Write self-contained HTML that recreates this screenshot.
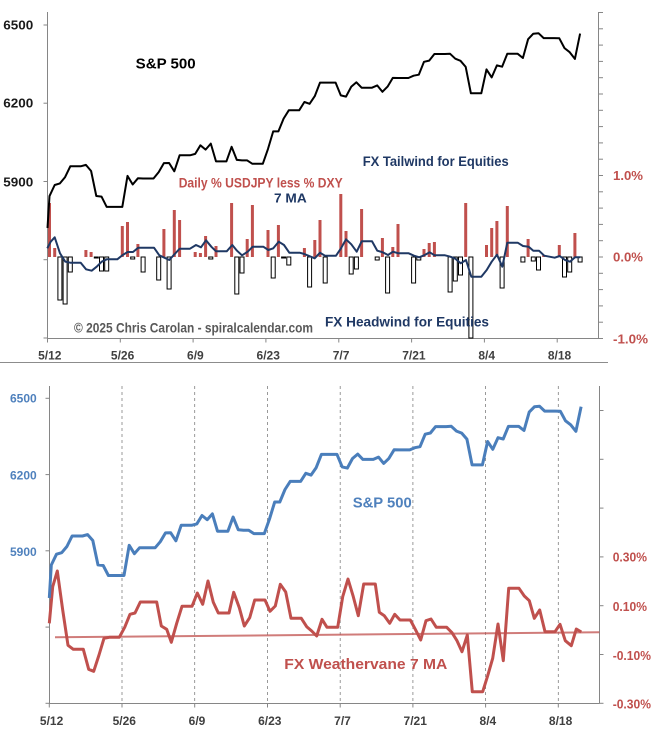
<!DOCTYPE html>
<html><head><meta charset="utf-8"><style>
html,body{margin:0;padding:0;background:#fff;}
svg{display:block;}
text{font-family:"Liberation Sans",Arial,sans-serif;font-weight:bold;}
</style></head><body>
<svg width="656" height="733" viewBox="0 0 656 733" xmlns="http://www.w3.org/2000/svg">
<rect width="656" height="733" fill="#fff"/>

<!-- ============ TOP CHART ============ -->
<g stroke="#868686" stroke-width="1" fill="none">
  <line x1="47.5" y1="12" x2="47.5" y2="338.5"/>
  <line x1="598.5" y1="12" x2="598.5" y2="338.5"/>
  <line x1="47.5" y1="338.5" x2="598.5" y2="338.5"/>
  <!-- left ticks -->
  <line x1="43.5" y1="25" x2="47.5" y2="25"/>
  <line x1="43.5" y1="103.2" x2="47.5" y2="103.2"/>
  <line x1="43.5" y1="181.5" x2="47.5" y2="181.5"/>
  <line x1="43.5" y1="259.7" x2="47.5" y2="259.7"/>
  <line x1="43.5" y1="338" x2="47.5" y2="338"/>
  <!-- right ticks -->
  <line x1="598.5" y1="12.5" x2="603" y2="12.5"/>
  <line x1="598.5" y1="28.8" x2="603" y2="28.8"/>
  <line x1="598.5" y1="45.1" x2="603" y2="45.1"/>
  <line x1="598.5" y1="61.4" x2="603" y2="61.4"/>
  <line x1="598.5" y1="77.7" x2="603" y2="77.7"/>
  <line x1="598.5" y1="94" x2="603" y2="94"/>
  <line x1="598.5" y1="110.3" x2="603" y2="110.3"/>
  <line x1="598.5" y1="126.6" x2="603" y2="126.6"/>
  <line x1="598.5" y1="142.9" x2="603" y2="142.9"/>
  <line x1="598.5" y1="159.2" x2="603" y2="159.2"/>
  <line x1="598.5" y1="175.5" x2="603" y2="175.5"/>
  <line x1="598.5" y1="191.8" x2="603" y2="191.8"/>
  <line x1="598.5" y1="208.1" x2="603" y2="208.1"/>
  <line x1="598.5" y1="224.4" x2="603" y2="224.4"/>
  <line x1="598.5" y1="240.7" x2="603" y2="240.7"/>
  <line x1="598.5" y1="257" x2="603" y2="257"/>
  <line x1="598.5" y1="273.3" x2="603" y2="273.3"/>
  <line x1="598.5" y1="289.6" x2="603" y2="289.6"/>
  <line x1="598.5" y1="305.9" x2="603" y2="305.9"/>
  <line x1="598.5" y1="322.2" x2="603" y2="322.2"/>
  <line x1="598.5" y1="338.5" x2="603" y2="338.5"/>
  <!-- x ticks -->
  <line x1="47.5" y1="338.5" x2="47.5" y2="342.5"/>
  <line x1="120.3" y1="338.5" x2="120.3" y2="342.5"/>
  <line x1="193.1" y1="338.5" x2="193.1" y2="342.5"/>
  <line x1="265.9" y1="338.5" x2="265.9" y2="342.5"/>
  <line x1="338.8" y1="338.5" x2="338.8" y2="342.5"/>
  <line x1="411.6" y1="338.5" x2="411.6" y2="342.5"/>
  <line x1="484.4" y1="338.5" x2="484.4" y2="342.5"/>
  <line x1="557.2" y1="338.5" x2="557.2" y2="342.5"/>
</g>

<!-- positive bars -->
<g fill="#c0504d">
<rect x="48" y="203" width="3" height="54"/>
<rect x="53.2" y="248" width="3" height="9"/>
<rect x="84.4" y="250" width="3" height="7"/>
<rect x="89.6" y="252" width="3" height="5"/>
<rect x="120.8" y="226" width="3" height="31"/>
<rect x="126" y="222" width="3" height="35"/>
<rect x="136.4" y="244" width="3" height="13"/>
<rect x="162.4" y="229" width="3" height="28"/>
<rect x="172.8" y="210" width="3" height="47"/>
<rect x="178.1" y="220" width="3" height="37"/>
<rect x="193.7" y="252" width="3" height="5"/>
<rect x="198.9" y="253" width="3" height="4"/>
<rect x="204.1" y="236" width="3" height="21"/>
<rect x="214.5" y="246" width="3" height="11"/>
<rect x="230.1" y="203" width="3" height="54"/>
<rect x="245.7" y="239" width="3" height="18"/>
<rect x="250.9" y="205" width="3" height="52"/>
<rect x="266.5" y="230" width="3" height="27"/>
<rect x="276.9" y="225" width="3" height="32"/>
<rect x="302.9" y="248" width="3" height="9"/>
<rect x="313.3" y="240" width="3" height="17"/>
<rect x="318.5" y="220" width="3" height="37"/>
<rect x="339.3" y="194" width="3" height="63"/>
<rect x="344.5" y="231" width="3" height="26"/>
<rect x="360.1" y="209" width="3" height="48"/>
<rect x="380.9" y="238" width="3" height="19"/>
<rect x="391.3" y="247" width="3" height="10"/>
<rect x="396.5" y="224" width="3" height="33"/>
<rect x="422.5" y="249" width="3" height="8"/>
<rect x="427.7" y="243" width="3" height="14"/>
<rect x="432.9" y="242" width="3" height="15"/>
<rect x="464.2" y="203" width="3" height="54"/>
<rect x="485" y="245" width="3" height="12"/>
<rect x="490.2" y="228" width="3" height="29"/>
<rect x="495.4" y="221" width="3" height="36"/>
<rect x="505.8" y="206" width="3" height="51"/>
<rect x="526.6" y="239" width="3" height="18"/>
<rect x="542.2" y="255" width="3" height="2"/>
<rect x="557.8" y="245" width="3" height="12"/>
<rect x="573.4" y="233" width="3" height="24"/>
</g>
<!-- negative bars -->
<g fill="#fff" stroke="#000" stroke-width="1">
<rect x="57.9" y="257" width="4" height="43"/>
<rect x="63.1" y="257" width="4" height="47"/>
<rect x="68.3" y="257" width="4" height="15"/>
<rect x="94.3" y="257" width="4" height="1"/>
<rect x="99.5" y="257" width="4" height="14"/>
<rect x="104.7" y="257" width="4" height="14"/>
<rect x="130.7" y="257" width="4" height="2"/>
<rect x="141.1" y="257" width="4" height="15"/>
<rect x="156.7" y="257" width="4" height="23"/>
<rect x="167.1" y="257" width="4" height="32"/>
<rect x="208.8" y="257" width="4" height="2"/>
<rect x="234.8" y="257" width="4" height="37"/>
<rect x="240" y="257" width="4" height="16"/>
<rect x="271.2" y="257" width="4" height="21"/>
<rect x="281.6" y="257" width="4" height="1"/>
<rect x="286.8" y="257" width="4" height="8"/>
<rect x="307.6" y="257" width="4" height="30"/>
<rect x="323.2" y="257" width="4" height="26"/>
<rect x="349.2" y="257" width="4" height="17"/>
<rect x="354.4" y="257" width="4" height="12"/>
<rect x="375.2" y="257" width="4" height="3"/>
<rect x="385.6" y="257" width="4" height="36"/>
<rect x="411.6" y="257" width="4" height="26"/>
<rect x="416.8" y="257" width="4" height="3"/>
<rect x="448.1" y="257" width="4" height="35"/>
<rect x="453.3" y="257" width="4" height="24"/>
<rect x="458.5" y="257" width="4" height="18"/>
<rect x="468.9" y="257" width="4" height="81"/>
<rect x="500.1" y="257" width="4" height="31"/>
<rect x="520.9" y="257" width="4" height="5"/>
<rect x="531.3" y="257" width="4" height="4"/>
<rect x="536.5" y="257" width="4" height="13"/>
<rect x="562.5" y="257" width="4" height="20"/>
<rect x="567.7" y="257" width="4" height="15"/>
<rect x="578.1" y="257" width="4" height="5"/>
</g>

<!-- 7 MA navy -->
<polyline fill="none" stroke="#1f3864" stroke-width="2" stroke-linejoin="round" points="47.3,248.3 50.7,241.7 54.7,237.3 60,253.3 65.3,261.7 70.3,262.7 80.7,262.7 86,269.3 91.7,270.7 96.7,266.7 101.7,261.7 106.7,259.3 117.3,259.3 122.7,255 127.7,252 133,252 138.3,247.7 154,247.7 159.3,255.3 169.3,260 174.7,254 179.7,248.7 190,248.7 196,245 201,247.3 206,240.3 211.3,246.7 216,251.3 226.7,251.3 232.3,245 237,250.7 242,255.3 247.7,251.7 252.7,246.7 263.3,246.7 268.3,250 273.3,248.3 278.7,241.7 284,245 289.3,252.7 299.7,252.7 304.3,254 314.7,258.3 320,252.7 325,255.7 336,255.7 341,248.3 346,239.3 351.3,244.3 356.7,251.7 361.7,241.3 372,241.3 377.3,250.7 382.7,252.3 388,255 393,251.7 398.3,253.3 408.7,253.3 414,255.7 419.3,257.3 424.7,255 429.7,252.3 434.7,255.3 445,255.3 450.3,256.7 455.3,258.7 460.7,263.3 466,260 471.3,276.7 481.3,276.7 486.7,270 491.7,261.7 497,254.7 502.3,266.7 507.3,242.7 517.7,242.7 523,246 528.7,246.7 533.3,250.7 539,250.7 544.3,255.7 554.7,257.7 559.7,256 565,260 570,261.7 575,257.3 580.3,257.3"/>

<!-- S&P top black -->
<polyline fill="none" stroke="#000" stroke-width="2" stroke-linejoin="round" points="47.5,228 49.5,196.1 54.7,185 59.9,183.4 65.1,177.1 70.3,166.3 80.7,166.3 85.9,164.9 91.1,171 96.3,196 101.5,196.6 106.7,206.9 122.3,206.9 127.5,175.9 132.7,184.5 137.9,178.3 143.1,178.5 153.5,178.5 158.7,172.1 163.9,163.1 169.1,163 174.3,171.3 179.6,155.3 190,155.3 195.2,153.9 200.4,145.3 205.6,149.6 210.8,143.6 216,161.4 226.4,161.4 231.6,146.8 236.8,159.9 242,160.4 247.2,160.4 252.4,163.8 262.8,163.8 268,148.9 273.2,131.4 278.4,131.4 283.6,118.6 288.8,110.3 299.2,110.3 304.4,102 309.6,103.8 314.8,96.1 320,82.6 335.6,82.6 340.8,95.4 346,96.6 351.2,86.8 356.4,82.3 361.6,87.7 372,87.7 377.2,85.4 382.4,91.8 387.6,86.6 392.8,77.9 398,78 408.4,78 413.6,75.7 418.8,74.7 424,61.8 429.2,60.6 434.4,54 444.9,54 450.1,53.8 455.3,58.7 460.5,60.8 465.7,66.9 470.9,93.3 481.3,93.3 486.5,69.4 491.7,77.4 496.9,65.4 502.1,66.7 507.3,53.8 517.7,53.8 522.9,58 528.1,39.2 533.3,33.7 538.5,33.2 543.7,38.1 554.1,38.1 559.3,38.3 564.5,48.1 569.7,52.2 574.9,58.9 580.1,33.6"/>

<!-- top texts -->
<g fill="#1a1a1a" font-size="12.5">
<text x="3.3" y="29.3" textLength="30" lengthAdjust="spacingAndGlyphs">6500</text>
<text x="3.3" y="107.3" textLength="30" lengthAdjust="spacingAndGlyphs">6200</text>
<text x="3.3" y="186.7" textLength="30" lengthAdjust="spacingAndGlyphs">5900</text>
</g>
<text x="135.7" y="68.3" font-size="15" fill="#000" textLength="60" lengthAdjust="spacingAndGlyphs">S&amp;P 500</text>
<text x="178.7" y="187.7" font-size="13.5" fill="#c0504d" textLength="164" lengthAdjust="spacingAndGlyphs">Daily % USDJPY less % DXY</text>
<text x="274" y="202.7" font-size="13" fill="#1f3864" textLength="32.7" lengthAdjust="spacingAndGlyphs">7 MA</text>
<text x="362.7" y="166" font-size="13.5" fill="#1f3864" textLength="146" lengthAdjust="spacingAndGlyphs">FX Tailwind for Equities</text>
<text x="325" y="326.7" font-size="14" fill="#1f3864" textLength="164" lengthAdjust="spacingAndGlyphs">FX Headwind for Equities</text>
<text x="74" y="332.7" font-size="13.5" fill="#595959" textLength="239" lengthAdjust="spacingAndGlyphs">© 2025 Chris Carolan - spiralcalendar.com</text>
<g fill="#c0504d" font-size="13">
<text x="613" y="180" textLength="30" lengthAdjust="spacingAndGlyphs">1.0%</text>
<text x="613" y="261.7" textLength="30" lengthAdjust="spacingAndGlyphs">0.0%</text>
<text x="613" y="343.3" textLength="35" lengthAdjust="spacingAndGlyphs">-1.0%</text>
</g>
<g fill="#404040" font-size="12" text-anchor="middle">
<text x="49.8" y="359.3">5/12</text>
<text x="122.6" y="359.3">5/26</text>
<text x="195.4" y="359.3">6/9</text>
<text x="268.2" y="359.3">6/23</text>
<text x="341.1" y="359.3">7/7</text>
<text x="413.9" y="359.3">7/21</text>
<text x="486.7" y="359.3">8/4</text>
<text x="559.5" y="359.3">8/18</text>
</g>

<!-- separator -->
<line x1="0" y1="362.5" x2="608" y2="362.5" stroke="#8c8c8c" stroke-width="1"/>

<!-- ============ BOTTOM CHART ============ -->
<g stroke="#808080" stroke-width="0.8" stroke-dasharray="3,3" fill="none">
<line x1="122" y1="386" x2="122" y2="703"/>
<line x1="194.7" y1="386" x2="194.7" y2="703"/>
<line x1="267.5" y1="386" x2="267.5" y2="703"/>
<line x1="340.2" y1="386" x2="340.2" y2="703"/>
<line x1="412.9" y1="386" x2="412.9" y2="703"/>
<line x1="485.6" y1="386" x2="485.6" y2="703"/>
<line x1="558.3" y1="386" x2="558.3" y2="703"/>
</g>
<g stroke="#868686" stroke-width="1" fill="none">
  <line x1="49.5" y1="386" x2="49.5" y2="703.5"/>
  <line x1="599.5" y1="386" x2="599.5" y2="703.5"/>
  <line x1="49.5" y1="703.5" x2="599.5" y2="703.5"/>
  <line x1="45.5" y1="398.3" x2="49.5" y2="398.3"/>
  <line x1="45.5" y1="474.6" x2="49.5" y2="474.6"/>
  <line x1="45.5" y1="550.8" x2="49.5" y2="550.8"/>
  <line x1="45.5" y1="627.1" x2="49.5" y2="627.1"/>
  <line x1="45.5" y1="703.3" x2="49.5" y2="703.3"/>
  <line x1="599.5" y1="410.5" x2="603.5" y2="410.5"/>
  <line x1="599.5" y1="459.3" x2="603.5" y2="459.3"/>
  <line x1="599.5" y1="508.1" x2="603.5" y2="508.1"/>
  <line x1="599.5" y1="556.9" x2="603.5" y2="556.9"/>
  <line x1="599.5" y1="605.7" x2="603.5" y2="605.7"/>
  <line x1="599.5" y1="654.5" x2="603.5" y2="654.5"/>
  <line x1="599.5" y1="703.3" x2="603.5" y2="703.3"/>
  <line x1="49.3" y1="703.5" x2="49.3" y2="707.5"/>
  <line x1="122" y1="703.5" x2="122" y2="707.5"/>
  <line x1="194.7" y1="703.5" x2="194.7" y2="707.5"/>
  <line x1="267.5" y1="703.5" x2="267.5" y2="707.5"/>
  <line x1="340.2" y1="703.5" x2="340.2" y2="707.5"/>
  <line x1="412.9" y1="703.5" x2="412.9" y2="707.5"/>
  <line x1="485.6" y1="703.5" x2="485.6" y2="707.5"/>
  <line x1="558.3" y1="703.5" x2="558.3" y2="707.5"/>
</g>

<!-- trend line -->
<line x1="55" y1="637.3" x2="599.3" y2="632.3" stroke="#c0504d" stroke-opacity="0.75" stroke-width="2"/>

<!-- FX weathervane red -->
<polyline fill="none" stroke="#c0504d" stroke-width="3" stroke-linejoin="round" points="49.3,623.3 52.7,586.7 57.3,571 62.7,610 68,645.3 73.3,649.3 83.3,649.3 88.7,669.3 93.7,671.3 99,655 104,638.3 109.3,637.3 119.3,637.3 124.7,627.3 130,614.3 135,613 140.3,602 156.7,602 161.3,626 166.7,629.3 171.3,642.3 176.7,623.3 182,606.3 192,606.3 197.3,593 202.7,604.3 208,581 213.3,602.3 218.3,613 229,613 233.7,592.3 239.3,607.7 244.3,626 249.7,617.7 254.7,600 265,600 270,611.3 275.3,606 280.3,584.3 285.7,592 291,618.3 301.3,618.3 306.7,626.7 311.7,631 316.7,636 322,619.3 327,627.3 337.7,627.3 342.7,596.7 348,579 353.3,596.7 358.3,615.7 363.7,584 375.3,584 379.3,612.3 384.3,615.7 389.7,623.3 394.7,614.3 400,620 410.3,620 415.3,629.3 420.7,640 426,620.7 431,619 436.3,627.3 446.7,627.3 452,632.7 457,640.7 462,651.7 467.3,635 472.3,691.7 482.7,691.7 487.7,675.7 492.7,658.3 498,624 503.3,660.7 508.7,588.3 519,588.3 524.3,596 529.3,600.7 534.3,618.3 539.7,610 545,631.7 555,631.7 560,624.3 565.3,640.7 571.3,645.7 576.3,629 581.3,632"/>

<!-- S&P bottom blue -->
<polyline fill="none" stroke="#4a7ebb" stroke-width="3" stroke-linejoin="round" points="49.3,598 51.3,565 56.5,554.2 61.7,552.7 66.9,546.5 72.1,536 82.5,536 87.6,534.6 92.8,540.5 98,564.9 103.2,565.5 108.4,575.5 124,575.5 129.2,545.3 134.4,553.7 139.6,547.7 144.8,547.8 155.1,547.8 160.3,541.7 165.5,532.9 170.7,532.8 175.9,540.8 181.2,525.3 191.6,525.3 196.8,523.9 202,515.5 207.2,519.7 212.4,513.9 217.5,531.2 227.9,531.2 233.1,517 238.3,529.8 243.5,530.2 248.7,530.2 253.9,533.6 264.3,533.6 269.5,519 274.7,502 279.8,502 285,489.5 290.2,481.4 300.6,481.4 305.8,473.3 311,475.1 316.2,467.6 321.4,454.4 337,454.4 342.2,466.9 347.3,468.1 352.5,458.5 357.7,454.1 362.9,459.4 373.3,459.4 378.5,457.1 383.7,463.4 388.9,458.4 394.1,449.8 399.3,449.9 409.7,449.9 414.8,447.7 420,446.7 425.2,434.2 430.4,433 435.6,426.6 446.1,426.6 451.3,426.3 456.5,431.1 461.7,433.1 466.9,439.1 472.1,464.9 482.4,464.9 487.6,441.5 492.8,449.3 498,437.7 503.2,439 508.4,426.4 518.8,426.4 524,430.5 529.2,412.1 534.4,406.8 539.6,406.3 544.7,411.1 555.1,411.1 560.3,411.2 565.5,420.8 570.7,424.8 575.9,431.3 581.1,406.7"/>

<!-- bottom texts -->
<g fill="#4f81bd" font-size="12">
<text x="10" y="402.3" textLength="26.7" lengthAdjust="spacingAndGlyphs">6500</text>
<text x="10" y="479.3" textLength="26.7" lengthAdjust="spacingAndGlyphs">6200</text>
<text x="10" y="556" textLength="26.7" lengthAdjust="spacingAndGlyphs">5900</text>
</g>
<text x="352.7" y="507.7" font-size="15" fill="#4f81bd" textLength="59" lengthAdjust="spacingAndGlyphs">S&amp;P 500</text>
<text x="284.3" y="669" font-size="15" fill="#c0504d" textLength="163" lengthAdjust="spacingAndGlyphs">FX Weathervane 7 MA</text>
<g fill="#c0504d" font-size="12.5">
<text x="612.7" y="561.7" textLength="34.3" lengthAdjust="spacingAndGlyphs">0.30%</text>
<text x="612.7" y="611" textLength="34.3" lengthAdjust="spacingAndGlyphs">0.10%</text>
<text x="612.7" y="660" textLength="38.3" lengthAdjust="spacingAndGlyphs">-0.10%</text>
<text x="612.7" y="708.7" textLength="38.3" lengthAdjust="spacingAndGlyphs">-0.30%</text>
</g>
<g fill="#404040" font-size="12" text-anchor="middle">
<text x="51.6" y="725">5/12</text>
<text x="124.3" y="725">5/26</text>
<text x="197" y="725">6/9</text>
<text x="269.8" y="725">6/23</text>
<text x="342.5" y="725">7/7</text>
<text x="415.2" y="725">7/21</text>
<text x="487.9" y="725">8/4</text>
<text x="560.6" y="725">8/18</text>
</g>
</svg>
</body></html>
